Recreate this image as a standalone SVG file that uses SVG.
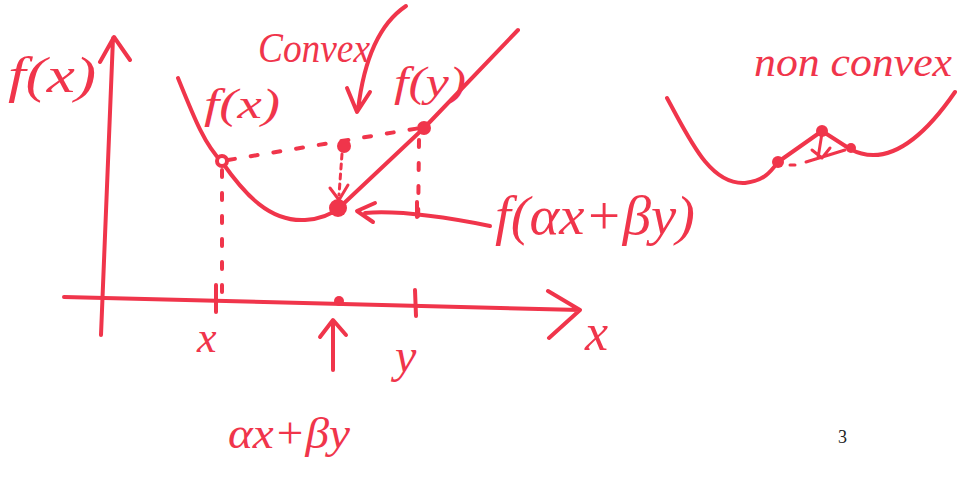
<svg xmlns="http://www.w3.org/2000/svg" width="957" height="483" viewBox="0 0 957 483">
<style>
.s{fill:none;stroke:#f0354b;stroke-width:4;stroke-linecap:round;stroke-linejoin:round}
.d{fill:none;stroke:#f0354b;stroke-width:4;stroke-linecap:round;stroke-dasharray:7 16}
.t{fill:#f0354b;font-family:"Liberation Serif",serif;font-style:italic}
.p{fill:#f0354b}
</style>
<rect width="957" height="483" fill="#fff"/>
<g id="axes">
<path class="s" d="M101 335 L113 38 M100 62 L114 37 L130 60"/>
<path class="s" d="M64 297 L580 310 M548 291 L580 310 L549 338"/>
<text class="t" x="585" y="350" font-size="52">x</text>
<text class="t" x="8" y="92" font-size="50" textLength="88" lengthAdjust="spacingAndGlyphs">f(x)</text>
</g>
<g id="ticks">
<path class="s" d="M216 285 L216 312 M415 290 L416 316"/>
<text class="t" x="197" y="352" font-size="44">x</text>
<text class="t" x="395" y="372" font-size="48">y</text>
<circle class="p" cx="339" cy="301" r="5"/>
<path class="s" d="M333 370 L333 322 M320 337 L333 320 L346 335"/>
<text class="t" x="228" y="448" font-size="44" textLength="122" lengthAdjust="spacingAndGlyphs">αx+βy</text>
</g>
<g id="curve">
<path class="s" d="M178 78 C195 120 205 145 222 162 C245 195 270 222 305 220 C322 219 332 214 340 207 L425 127 L518 30"/>
<path class="d" d="M228 160 L420 128"/>
<path class="d" d="M222 170 L222 300 M419 140 L418 230"/>
<path class="d" style="stroke-width:3;stroke-dasharray:5 5" d="M342 154 L339 195"/>
<path class="s" style="stroke-width:3" d="M330 188 L339 200 L348 185"/>
<circle cx="222" cy="161" r="5" fill="#fff" stroke="#f0354b" stroke-width="4"/>
<circle class="p" cx="424" cy="128" r="7"/>
<circle class="p" cx="344" cy="146" r="7"/>
<circle class="p" cx="338" cy="208" r="9"/>
<text class="t" x="204" y="118" font-size="42" textLength="76" lengthAdjust="spacingAndGlyphs">f(x)</text>
<text class="t" x="394" y="96" font-size="42" textLength="72" lengthAdjust="spacingAndGlyphs">f(y)</text>
</g>
<g id="convex-label">
<text class="t" x="258" y="62" font-size="42" textLength="112" lengthAdjust="spacingAndGlyphs">Convex</text>
<path class="s" d="M406 6 C385 20 365 50 358 110 M347 88 L357 112 L370 92"/>
</g>
<g id="combo-label">
<text class="t" x="495" y="234" font-size="54" textLength="200" lengthAdjust="spacingAndGlyphs">f(αx+βy)</text>
<path class="s" d="M490 226 C450 218 400 210 365 213 M375 203 L357 211 L373 222 M417 202 L417 217"/>
</g>
<g id="nonconvex">
<text class="t" x="754" y="76" font-size="42" textLength="198" lengthAdjust="spacingAndGlyphs">non convex</text>
<path class="s" d="M667 98 C690 140 710 185 745 183 C765 181 772 170 778 162 L822 131 L850 149 C880 165 915 150 955 92"/>
<path class="s" style="stroke-width:3" d="M790 165 L795 165 M806 162 L845 150 M822 133 L818 158 M812 150 L822 158 L830 148"/>
<circle class="p" cx="778" cy="162" r="6"/>
<circle class="p" cx="822" cy="131" r="6"/>
<circle class="p" cx="851" cy="148" r="5"/>
</g>
<text x="838" y="443" font-family="'Liberation Serif',serif" font-size="18" fill="#222">3</text>
</svg>
